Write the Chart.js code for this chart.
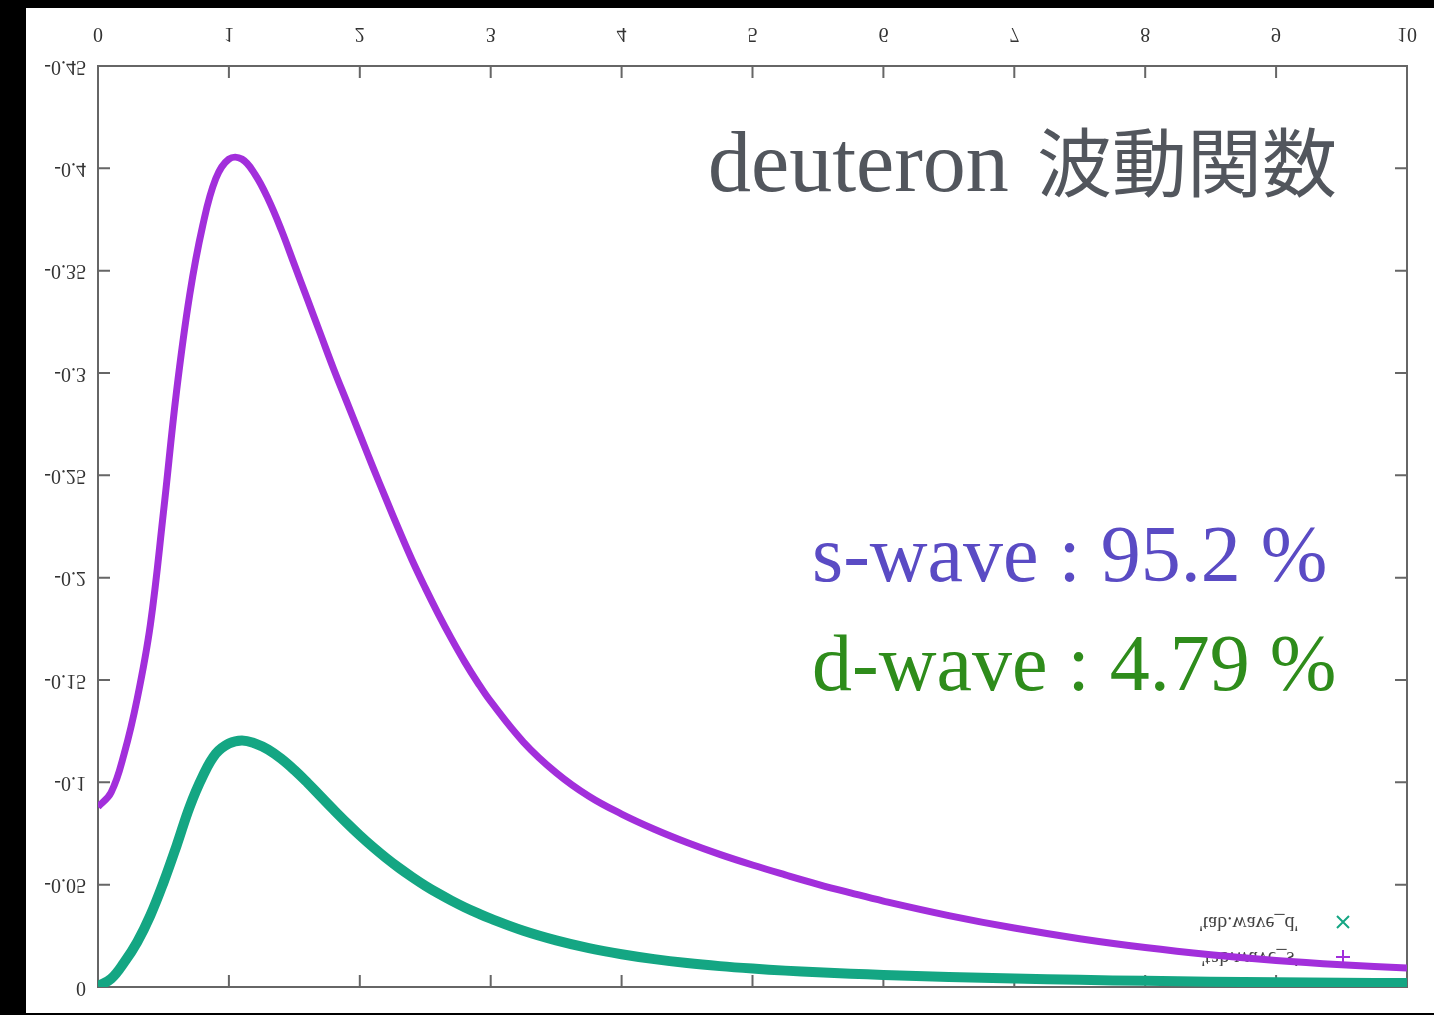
<!DOCTYPE html>
<html>
<head>
  <title>deuteron wave function</title>
  <script src="https://cdn.jsdelivr.net/npm/chart.js"></script>
  <style>
    body {
      margin: 0;
      background: #000;
      overflow: hidden;
    }
    #chartWrapper {
      position: absolute;
      left: 0;
      top: 0;
      width: 1434px;
      height: 1015px;
    }
  </style>
</head>
<body>
  <div id="chartWrapper">
    <canvas id="waveChart"></canvas>
  </div>

  <script>
    // radius grid (fm) and the two wave components
    const r = [0, 0.1, 0.2, 0.3, 0.4, 0.5, 0.6, 0.7, 0.8, 0.9,
               1.0, 1.1, 1.2, 1.3, 1.4, 1.5, 1.6, 1.7, 1.8, 1.9,
               2.0, 2.1, 2.2, 2.3, 2.4, 2.5, 2.6, 2.7, 2.8, 2.9,
               3.0, 3.25, 3.5, 3.75, 4.0, 4.25, 4.5, 4.75, 5.0, 5.25,
               5.5, 5.75, 6.0, 6.5, 7.0, 7.5, 8.0, 8.5, 9.0, 9.5, 10];

    const sWave = [0.088, 0.095, 0.114, 0.141, 0.177, 0.232, 0.291, 0.338, 0.372, 0.395,
                   0.4045, 0.4045, 0.397, 0.385, 0.370, 0.353, 0.336, 0.319, 0.302, 0.286,
                   0.270, 0.254, 0.2385, 0.2232, 0.2085, 0.195, 0.1822, 0.1702, 0.159, 0.1488,
                   0.1395, 0.1197, 0.1047, 0.0932, 0.0845, 0.0771, 0.0706, 0.0648, 0.0596, 0.0548,
                   0.0502, 0.046, 0.042, 0.0349, 0.0288, 0.0236, 0.0193, 0.0158, 0.013, 0.0109, 0.0093];

    const dWave = [0.0005, 0.004, 0.012, 0.022, 0.035, 0.051, 0.069, 0.088, 0.103, 0.114,
                   0.119, 0.1205, 0.119, 0.116, 0.1115, 0.106, 0.0998, 0.0932, 0.0866, 0.0802,
                   0.0741, 0.0684, 0.0631, 0.0582, 0.0537, 0.0495, 0.0457, 0.0422, 0.039, 0.0361,
                   0.0334, 0.0275, 0.0228, 0.019, 0.016, 0.0136, 0.0117, 0.0102, 0.009, 0.008,
                   0.0072, 0.0065, 0.0059, 0.0049, 0.0041, 0.0035, 0.003, 0.0026, 0.0023, 0.0021, 0.0019];

    const xTicks = [0, 1, 2, 3, 4, 5, 6, 7, 8, 9, 10];
    const xTickLabels = ['0', '1', '2', '3', '4', '5', '6', '7', '8', '9', '10'];
    const yTicks = [0, 0.05, 0.1, 0.15, 0.2, 0.25, 0.3, 0.35, 0.4, 0.45];
    const yTickLabels = ['0', '-0.05', '-0.1', '-0.15', '-0.2', '-0.25', '-0.3', '-0.35', '-0.4', '-0.45'];

    const seriesNames = ["'tab.wave_s'", "'tab.wave_d'"];
    const sColor = '#a22fdb';
    const dColor = '#14a683';

    // text upside down, like the scanned gnuplot output
    function flippedText(ctx, text, x, y) {
      ctx.save();
      ctx.translate(x, y);
      ctx.scale(1, -1);
      ctx.fillText(text, 0, 0);
      ctx.restore();
    }

    const framePlugin = {
      id: 'frame',
      beforeDraw(chart) {
        const ctx = chart.ctx;
        ctx.save();
        ctx.fillStyle = '#fff';
        ctx.fillRect(26, 8, 1408, 1005);
        ctx.restore();
      },
      beforeDatasetsDraw(chart) {
        const ctx = chart.ctx;
        const a = chart.chartArea;
        const xs = chart.scales.x, ys = chart.scales.y;
        ctx.save();
        ctx.strokeStyle = '#666';
        ctx.lineWidth = 2;
        ctx.strokeRect(a.left, a.top, a.right - a.left, a.bottom - a.top);
        ctx.beginPath();
        xTicks.forEach(v => {
          const px = xs.getPixelForValue(v);
          ctx.moveTo(px, a.top); ctx.lineTo(px, a.top + 12);
          ctx.moveTo(px, a.bottom); ctx.lineTo(px, a.bottom - 12);
        });
        yTicks.forEach(v => {
          const py = ys.getPixelForValue(v);
          ctx.moveTo(a.left, py); ctx.lineTo(a.left + 12, py);
          ctx.moveTo(a.right, py); ctx.lineTo(a.right - 12, py);
        });
        ctx.stroke();

        ctx.fillStyle = '#333';
        ctx.font = '20px "Liberation Serif"';
        ctx.textBaseline = 'middle';
        ctx.textAlign = 'center';
        xTicks.forEach((v, i) => flippedText(ctx, xTickLabels[i], xs.getPixelForValue(v), 33));
        ctx.textAlign = 'right';
        yTicks.forEach((v, i) => flippedText(ctx, yTickLabels[i], 86, ys.getPixelForValue(v)));

        // key, flipped too: d on top, s below
        ctx.font = '20px "Liberation Serif"';
        ctx.fillStyle = '#444';
        flippedText(ctx, seriesNames[1], 1298, 922);
        flippedText(ctx, seriesNames[0], 1298, 957);
        ctx.lineWidth = 2;
        ctx.strokeStyle = dColor;
        ctx.beginPath();
        ctx.moveTo(1337, 916); ctx.lineTo(1349, 928);
        ctx.moveTo(1349, 916); ctx.lineTo(1337, 928);
        ctx.stroke();
        ctx.strokeStyle = sColor;
        ctx.beginPath();
        ctx.moveTo(1336, 957); ctx.lineTo(1350, 957);
        ctx.moveTo(1343, 950); ctx.lineTo(1343, 964);
        ctx.stroke();
        ctx.restore();
      },
      afterDraw(chart) {
        const ctx = chart.ctx;
        ctx.save();
        ctx.textBaseline = 'alphabetic';
        ctx.textAlign = 'left';
        ctx.fillStyle = '#52565d';
        ctx.font = '86px "Liberation Serif"';
        ctx.fillText('deuteron', 708, 191);
        ctx.font = '75px "Noto Sans CJK JP"';
        ctx.fillText('波動関数', 1037, 191);

        ctx.font = '80px "Liberation Serif"';
        ctx.fillStyle = '#5a4bc4';
        ctx.fillText('s-wave : 95.2 %', 812, 581);
        ctx.fillStyle = '#2e8c1b';
        ctx.fillText('d-wave : 4.79 %', 812, 690);
        ctx.restore();
      }
    };

    const ctx = document.getElementById('waveChart').getContext('2d');
    const waveChart = new Chart(ctx, {
      type: 'line',
      data: {
        datasets: [{
          label: seriesNames[0],
          data: r.map((x, i) => ({ x: x, y: sWave[i] })),
          borderColor: sColor,
          borderWidth: 7,
          pointRadius: 0,
          tension: 0.4,
          fill: false
        }, {
          label: seriesNames[1],
          data: r.map((x, i) => ({ x: x, y: dWave[i] })),
          borderColor: dColor,
          borderWidth: 10,
          pointRadius: 0,
          tension: 0.4,
          fill: false
        }]
      },
      options: {
        responsive: true,
        maintainAspectRatio: false,
        animation: false,
        layout: { padding: { left: 98, right: 27, top: 66, bottom: 28 } },
        scales: {
          x: { type: 'linear', min: 0, max: 10, display: false },
          y: { type: 'linear', min: 0, max: 0.45, display: false }
        },
        plugins: {
          legend: { display: false },
          tooltip: { enabled: false }
        }
      },
      plugins: [framePlugin]
    });
  </script>
</body>
</html>
